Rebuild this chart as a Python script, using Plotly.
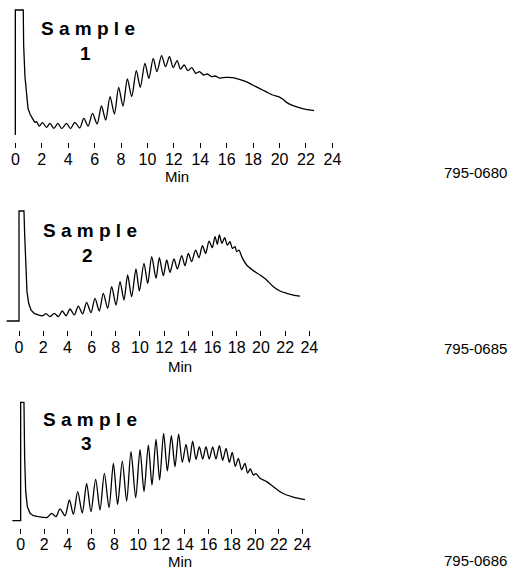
import plotly.graph_objects as go

W, H = 512, 569

# ---------------- data (minutes, relative response; spike clipped at 100) ----------------
t1 = [0, 0, 0.60, 0.63, 0.73, 0.86, 0.96, 1.11, 1.31, 1.48, 1.61, 1.81, 2.06, 2.36, 2.62, 2.92, 3.22, 3.52, 3.87, 4.18,
      4.50, 4.88, 5.18, 5.51, 5.84, 6.19, 6.52, 6.84, 7.17, 7.50, 7.82, 8.15, 8.48, 8.81, 9.16, 9.46, 9.81, 10.11, 10.44, 10.72,
      11.07, 11.37, 11.67, 11.95, 12.25, 12.50, 12.78, 13.06, 13.36, 13.66, 13.94, 14.24, 14.54, 14.84, 15.14, 15.45, 15.95, 16.45, 16.96, 17.46,
      17.96, 18.47, 18.97, 19.47, 19.92, 20.23, 20.53, 20.98, 21.48, 21.99, 22.62]
y1 = [0, 100, 100, 72, 46.7, 28, 21.3, 16.8, 13.3, 9.9, 10.7, 7.2, 9.9, 6.1, 9.3, 5.3, 9.3, 5.1, 9.3, 5.1,
      10.1, 5.6, 13.3, 7.2, 17.3, 8.8, 23.2, 12.0, 30.7, 16.8, 38.1, 23.2, 44.8, 30.7, 51.5, 38.1, 57.3, 45.3, 61.3, 50.7,
      63.5, 54.7, 62.7, 53.9, 59.5, 52.8, 56.0, 51.5, 53.9, 49.3, 50.7, 48.0, 48.8, 46.7, 47.2, 45.6, 46.1, 45.9, 44.5, 42.7,
      40.0, 37.3, 34.7, 32.0, 30.7, 28.8, 26.1, 23.7, 21.9, 20.5, 19.5]

t2 = [-1.02, 0, 0, 0.41, 0.47, 0.55, 0.66, 0.80, 0.99, 1.24, 1.60, 1.96, 2.23, 2.56, 2.92, 3.25, 3.58, 3.89, 4.22, 4.57,
      4.90, 5.26, 5.59, 5.95, 6.28, 6.64, 6.97, 7.33, 7.66, 8.02, 8.35, 8.68, 8.98, 9.31, 9.67, 9.95, 10.33, 10.64, 10.97, 11.33,
      11.60, 11.93, 12.21, 12.48, 12.81, 13.09, 13.45, 13.72, 14.00, 14.27, 14.60, 14.88, 15.16, 15.43, 15.71, 15.98, 16.20, 16.40, 16.56, 16.78,
      17.00, 17.22, 17.44, 17.64, 17.86, 17.99, 18.19, 18.41, 18.82, 19.37, 19.92, 20.47, 21.03, 21.58, 22.13, 22.68, 23.23]
y2 = [0, 0, 100, 100, 78.2, 50.9, 26.7, 16.1, 10.0, 7.0, 5.5, 4.8, 6.7, 3.9, 7.0, 3.9, 9.1, 4.8, 10.9, 5.5,
      13.6, 6.4, 17.0, 7.6, 20.6, 9.1, 25.2, 11.5, 31.2, 14.5, 35.8, 19.1, 41.8, 22.1, 47.3, 27.3, 52.4, 34.2, 58.5, 38.8,
      57.6, 41.2, 55.5, 44.2, 56.4, 47.3, 59.4, 50.3, 61.5, 53.9, 64.5, 57.6, 68.5, 61.5, 72.7, 66.7, 76.7, 69.7, 78.2, 70.6,
      75.8, 69.1, 72.1, 66.1, 67.6, 63.0, 64.5, 58.5, 50.9, 45.8, 41.8, 37.3, 31.2, 27.3, 25.2, 23.6, 22.7]

t3 = [-0.71, 0, 0, 0.28, 0.34, 0.43, 0.57, 0.80, 1.08, 1.51, 1.93, 2.27, 2.64, 3.01, 3.35, 3.78, 4.15, 4.49, 4.86, 5.25,
      5.62, 5.99, 6.39, 6.76, 7.13, 7.53, 7.90, 8.26, 8.66, 9.03, 9.40, 9.80, 10.17, 10.51, 10.88, 11.19, 11.53, 11.84, 12.18, 12.50,
      12.84, 13.15, 13.46, 13.77, 14.09, 14.37, 14.65, 14.94, 15.22, 15.51, 15.79, 16.07, 16.36, 16.64, 16.93, 17.21, 17.50, 17.78, 18.03, 18.29,
      18.55, 18.83, 19.11, 19.34, 19.57, 19.82, 20.05, 20.39, 20.96, 21.53, 22.10, 22.66, 23.23, 24.23]
y3 = [0, 0, 100, 100, 52.7, 24.5, 11.8, 6.2, 4.2, 3.4, 2.8, 2.8, 6.2, 3.4, 9.9, 4.2, 17.5, 5.4, 24.5, 6.5,
      31.5, 7.6, 34.9, 9.0, 40.0, 11.0, 48.5, 13.8, 50.4, 16.6, 58.3, 19.4, 60.0, 24.5, 63.9, 30.1, 68.7, 34.4, 73.8, 42.0,
      71.8, 45.6, 73.2, 49.3, 64.5, 49.3, 67.3, 51.8, 62.5, 52.1, 62.5, 52.1, 62.3, 52.1, 63.4, 51.0, 61.1, 49.3, 57.7, 45.9,
      52.7, 43.1, 48.5, 40.3, 43.7, 38.6, 39.7, 35.8, 33.0, 28.7, 24.5, 21.7, 20.0, 17.7]

tick_vals = [0, 2, 4, 6, 8, 10, 12, 14, 16, 18, 20, 22, 24]
sample_labels = ["1", "2", "3"]
codes = ["795-0680", "795-0685", "795-0686"]

# ---------------- layout geometry (pixels) ----------------
FONT = "Liberation Sans, Arial, sans-serif"
panels = [
    dict(x0=15.33, ppm=13.21, xr=[-1.1, 25], yb=135.0, ppu=1.25, yr=[-5.5, 105], so=-2,
         sx=88, sy=29, ny=54, mx=177, my=176, cy=172),
    dict(x0=19.0, ppm=12.097, xr=[-1.5, 25], yb=321.0, ppu=1.10, yr=[-8, 105], so=-2,
         sx=90, sy=231, ny=256, mx=180, my=366, cy=348),
    dict(x0=20.67, ppm=11.736, xr=[-1.7, 25], yb=520.67, ppu=1.1833, yr=[-6.5, 105], so=-4,
         sx=89.5, sy=419, ny=443, mx=180, my=561, cy=560),
]
series = [(t1, y1, 9), (t2, y2, 9), (t3, y3, 9)]

fig = go.Figure()
layout = dict(width=W, height=H, margin=dict(l=0, r=0, t=0, b=0),
              paper_bgcolor="white", plot_bgcolor="white", showlegend=False,
              font=dict(family=FONT, color="black"))
annotations = []

for i, (p, (t, y, k)) in enumerate(zip(panels, series)):
    n = "" if i == 0 else str(i + 1)
    left = p["x0"] + p["xr"][0] * p["ppm"]
    right = p["x0"] + p["xr"][1] * p["ppm"]
    bottom = p["yb"] - p["yr"][0] * p["ppu"]
    top = p["yb"] - p["yr"][1] * p["ppu"]
    layout["xaxis" + n] = dict(domain=[left / W, right / W], range=p["xr"], anchor="y" + n,
                               tickmode="array", tickvals=tick_vals, ticks="outside", ticklen=5,
                               tickwidth=1, tickcolor="black", showline=False, showgrid=False,
                               zeroline=False, ticklabelstandoff=p["so"],
                               tickfont=dict(size=16, family=FONT, color="black"))
    layout["yaxis" + n] = dict(domain=[(H - bottom) / H, (H - top) / H], range=p["yr"],
                               anchor="x" + n, visible=False)
    # spike part (straight segments) and the smooth remainder
    fig.add_trace(go.Scatter(x=t[:k + 1], y=y[:k + 1], mode="lines", xaxis="x" + n, yaxis="y" + n,
                             line=dict(color="black", width=1.3), hoverinfo="skip"))
    fig.add_trace(go.Scatter(x=t[k:], y=y[k:], mode="lines", xaxis="x" + n, yaxis="y" + n,
                             line=dict(color="black", width=1.3, shape="spline", smoothing=0.8),
                             hoverinfo="skip"))
    annotations += [
        dict(text="<b>S a m p l e</b>", x=p["sx"] / W, y=(H - p["sy"]) / H, xref="paper", yref="paper",
             showarrow=False, xanchor="center", yanchor="middle", font=dict(size=19, family=FONT)),
        dict(text="<b>" + sample_labels[i] + "</b>", x=p["sx"] / W - 3 / W, y=(H - p["ny"]) / H,
             xref="paper", yref="paper", showarrow=False, xanchor="center", yanchor="middle",
             font=dict(size=19, family=FONT)),
        dict(text="Min", x=p["mx"] / W, y=(H - p["my"]) / H, xref="paper", yref="paper",
             showarrow=False, xanchor="center", yanchor="middle", borderpad=0,
             font=dict(size=15, family=FONT)),
        dict(text=codes[i], x=508 / W, y=(H - p["cy"]) / H, xref="paper", yref="paper",
             showarrow=False, xanchor="right", yanchor="middle", borderpad=0,
             font=dict(size=15, family=FONT)),
    ]

layout["annotations"] = annotations
fig.update_layout(**layout)
fig.write_html("out.html")
